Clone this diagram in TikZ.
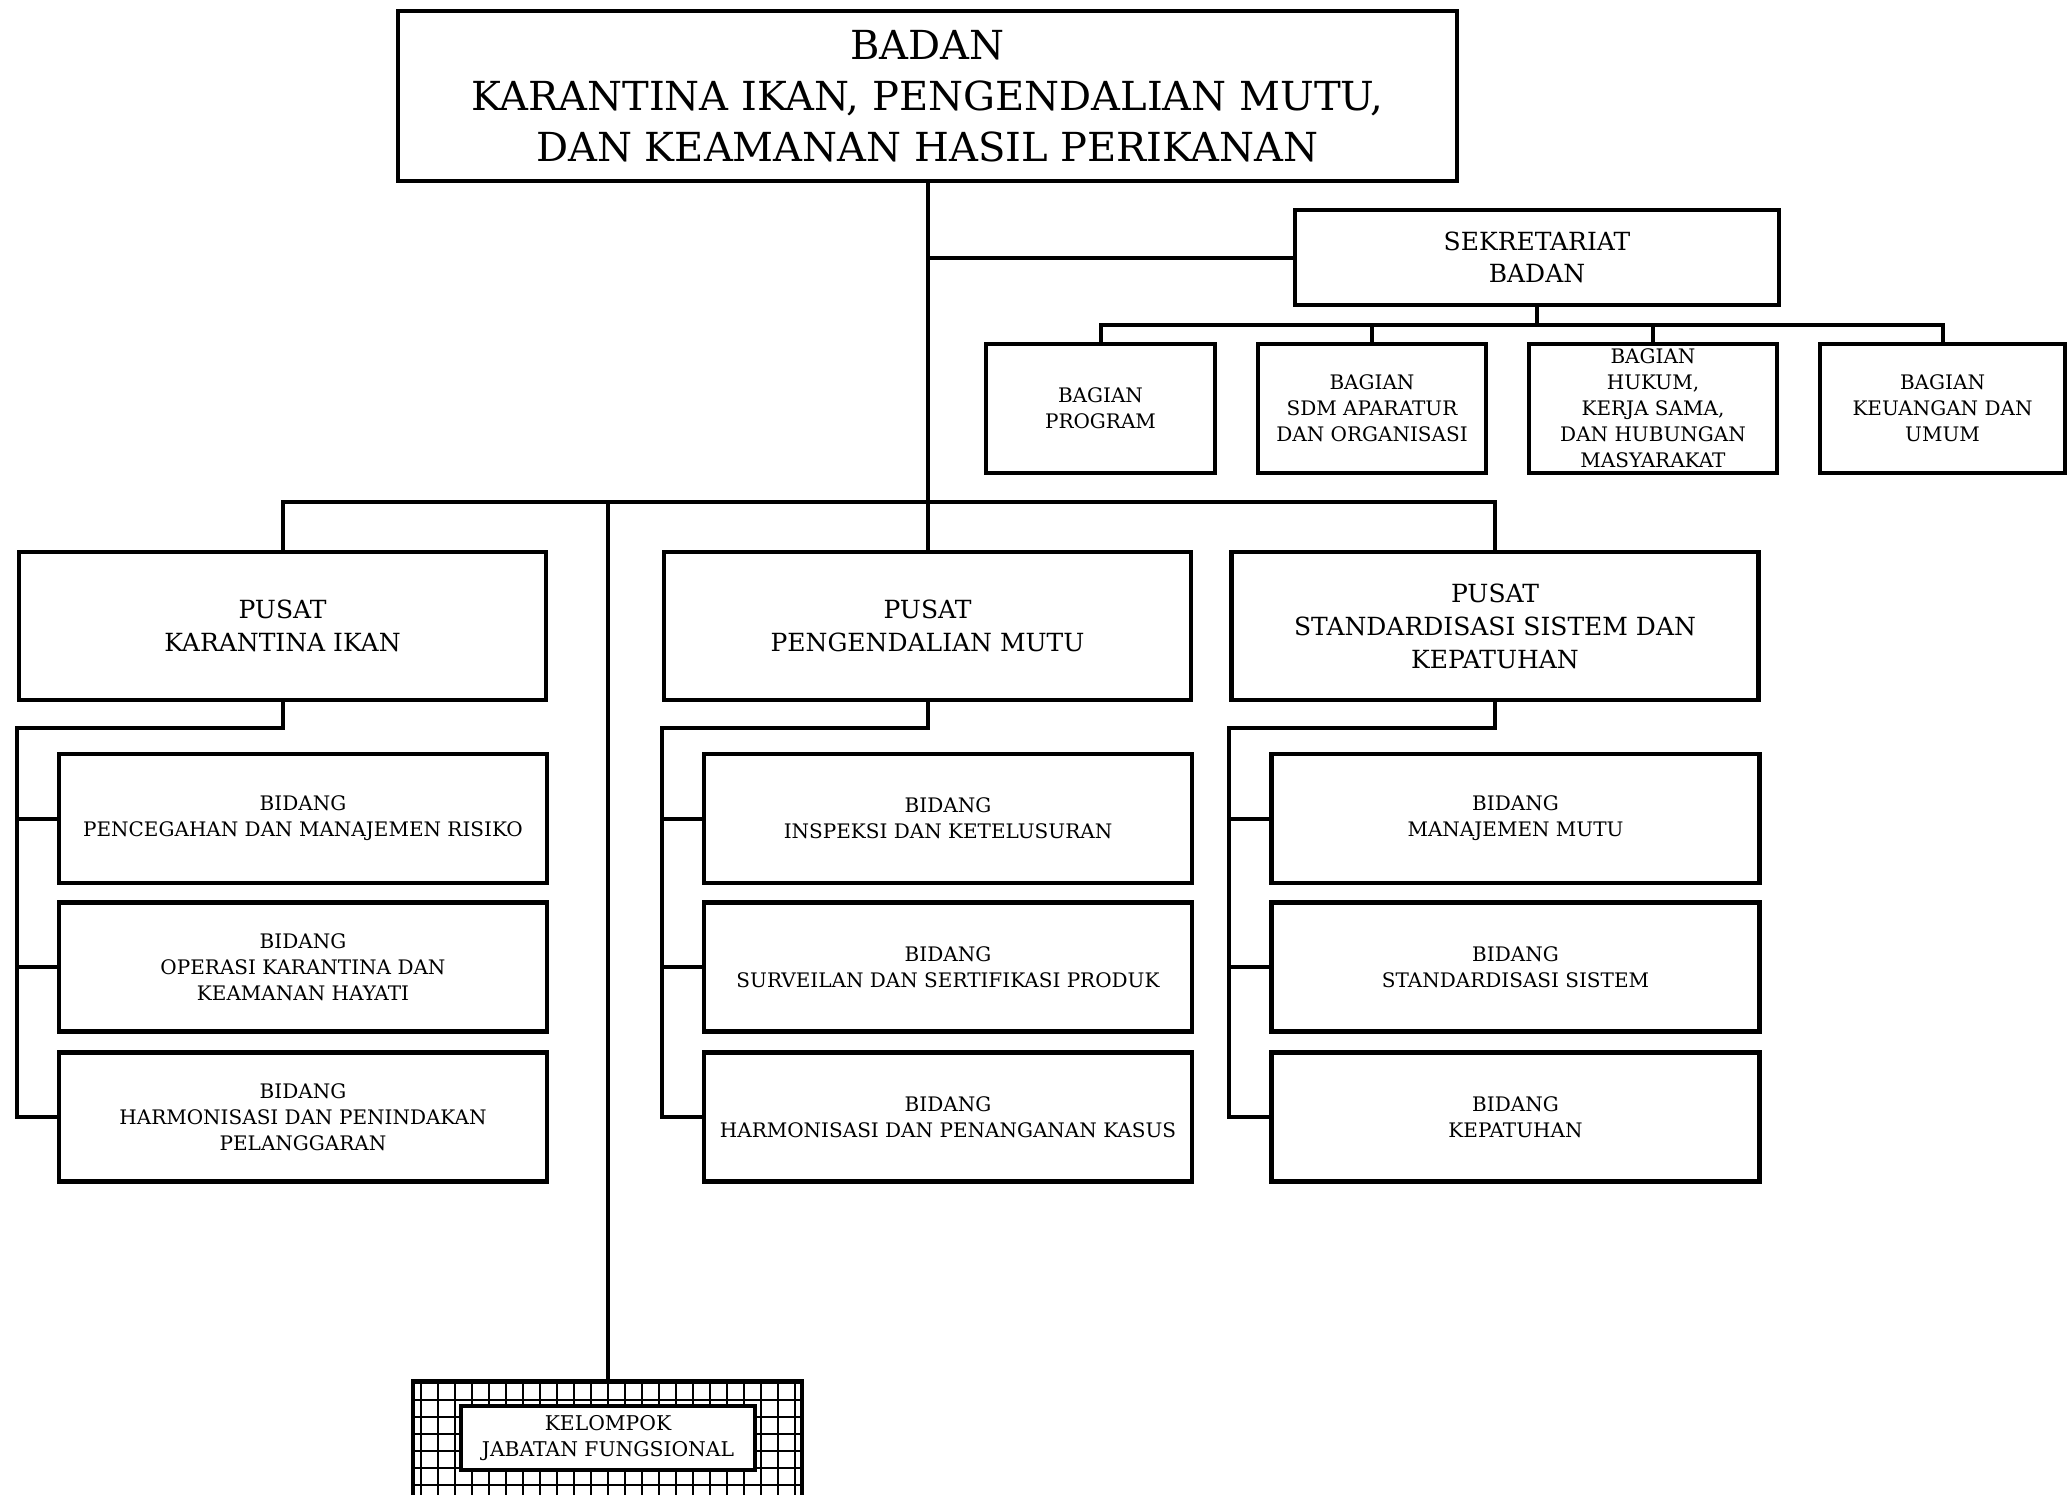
\documentclass[tikz,border=0pt]{standalone}
\usepackage{fontspec}
\setmainfont{DejaVu Serif}
\newcommand{\fs}[2]{\fontsize{#1}{#2}\selectfont}
\tikzset{
  unit/.style={draw, line width=4.6pt, inner sep=0pt, align=center, fill=white},
  link/.style={line width=4pt},
  bagianbox/.style={unit, minimum height=129pt, font=\fs{20}{26}},
  pusatbox/.style={unit, minimum width=527pt, minimum height=148pt, font=\fs{25}{33}},
  bidangbox/.style={unit, minimum width=488pt, minimum height=129pt, font=\fs{20}{26}},
}

\begin{document}
\begin{tikzpicture}[x=1pt,y=-1pt]
        \useasboundingbox (0,0) rectangle (2069,1494);

        % draw head office and secretariat
        \node[unit, minimum width=1059pt, minimum height=170pt, font=\fs{40}{51}] (badan) at (927.5,96)
          {BADAN\\ KARANTINA IKAN, PENGENDALIAN MUTU,\\ DAN KEAMANAN HASIL PERIKANAN};
        \node[unit, minimum width=484pt, minimum height=95pt, font=\fs{25}{32}] (sekretariat) at (1537,257.5)
          {SEKRETARIAT\\ BADAN};

        % draw bagian nodes
        \node[bagianbox, minimum width=229pt] (program) at (1100.5,408.5) {BAGIAN\\ PROGRAM};
        \node[bagianbox, minimum width=228pt] (sdm) at (1372,408.5) {BAGIAN\\ SDM APARATUR\\ DAN ORGANISASI};
        \node[bagianbox, minimum width=248pt] (hukum) at (1653,408.5) {BAGIAN\\ HUKUM,\\ KERJA SAMA,\\ DAN HUBUNGAN\\ MASYARAKAT};
        \node[bagianbox, minimum width=245pt] (keuangan) at (1942.5,408.5) {BAGIAN\\ KEUANGAN DAN\\ UMUM};

        % draw pusat nodes
        \node[pusatbox] (karantina) at (282.5,626) {PUSAT\\ KARANTINA IKAN};
        \node[pusatbox] (mutu) at (927.5,626) {PUSAT\\ PENGENDALIAN MUTU};
        \node[pusatbox] (standar) at (1495,626) {PUSAT\\ STANDARDISASI SISTEM DAN\\ KEPATUHAN};

        % draw bidang nodes
        \node[bidangbox] (karantina1) at (303,818.5) {BIDANG\\ PENCEGAHAN DAN MANAJEMEN RISIKO};
        \node[bidangbox] (karantina2) at (303,967) {BIDANG\\ OPERASI KARANTINA DAN\\ KEAMANAN HAYATI};
        \node[bidangbox] (karantina3) at (303,1117) {BIDANG\\ HARMONISASI DAN PENINDAKAN\\ PELANGGARAN};
        \node[bidangbox] (mutu1) at (948,818.5) {BIDANG\\ INSPEKSI DAN KETELUSURAN};
        \node[bidangbox] (mutu2) at (948,967) {BIDANG\\ SURVEILAN DAN SERTIFIKASI PRODUK};
        \node[bidangbox] (mutu3) at (948,1117) {BIDANG\\ HARMONISASI DAN PENANGANAN KASUS};
        \node[bidangbox] (standar1) at (1515.5,818.5) {BIDANG\\ MANAJEMEN MUTU};
        \node[bidangbox] (standar2) at (1515.5,967) {BIDANG\\ STANDARDISASI SISTEM};
        \node[bidangbox] (standar3) at (1515.5,1117) {BIDANG\\ KEPATUHAN};

        % draw kelompok jabatan fungsional
        \node[draw, line width=4.6pt, minimum width=389pt, minimum height=140pt, inner sep=0pt,
          path picture={\draw[line width=2pt] (path picture bounding box.north west) grid[step=17pt]
            (path picture bounding box.south east);}] (jfbox) at (607.5,1451) {};
        \node[unit, minimum width=294pt, minimum height=64pt, font=\fs{20.3}{26}] (kelompok) at (608,1438)
          {KELOMPOK\\ JABATAN FUNGSIONAL};

        % draw connectors
        \coordinate (bus) at (0,502);
        \draw[link] (badan.south) -- (mutu.north);
        \draw[link] (badan.south |- sekretariat.west) -- (sekretariat.west);
        \draw[link] (program.north) -- ++(0,-17) -| (keuangan.north);
        \draw[link] (sekretariat.south) -- ++(0,17.5);
        \foreach \b in {sdm,hukum}
          \draw[link] (\b.north) -- ++(0,-17);
        \draw[link] (karantina.north) |- (bus -| standar.north) -- (standar.north);
        \draw[link] (jfbox.north) -- (jfbox.north |- bus);
        \foreach \p in {karantina,mutu,standar} {
          \draw[link] (\p.south) -- ++(0,26) -| (\p.west |- \p3.west) -- (\p3.west);
          \draw[link] (\p.west |- \p1.west) -- (\p1.west);
          \draw[link] (\p.west |- \p2.west) -- (\p2.west);
        }
\end{tikzpicture}
\end{document}
